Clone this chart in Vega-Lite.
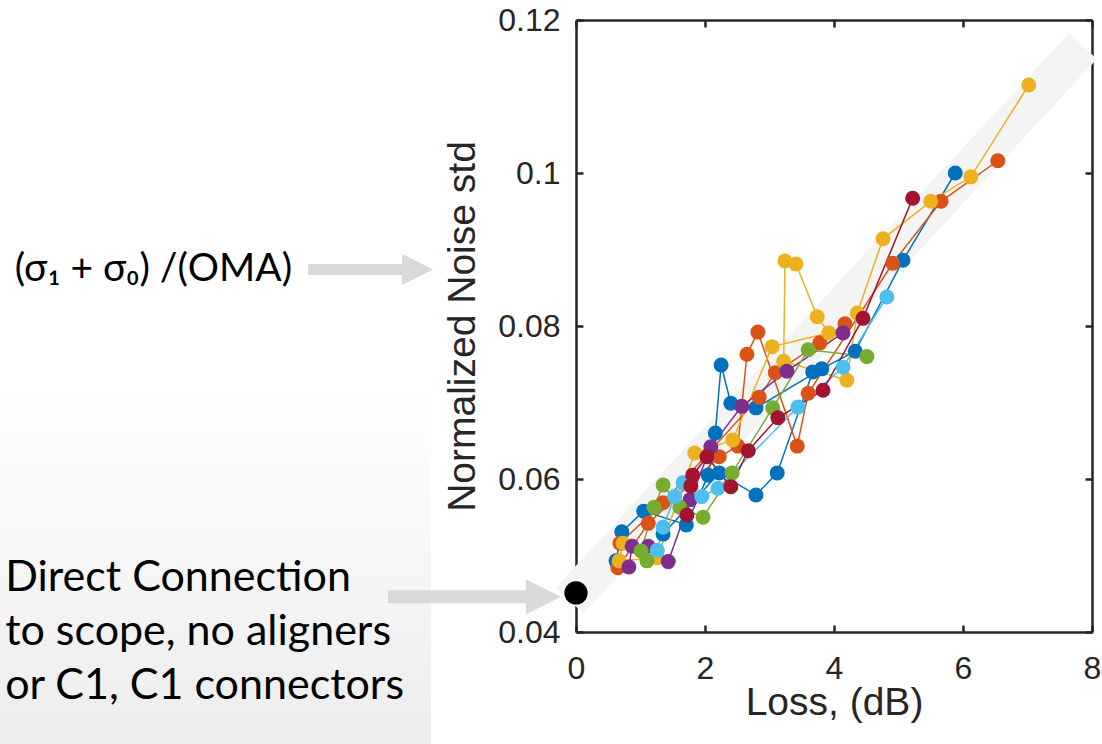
{
  "$schema": "https://vega.github.io/schema/vega-lite/v6.json",
  "width": 516,
  "height": 612,
  "autosize": {"type": "none"},
  "padding": {"left": 576, "top": 20, "right": 10, "bottom": 112},
  "background": "white",
  "config": {
    "view": {"stroke": null},
    "axis": {
      "domainColor": "#262626", "domainWidth": 2.5,
      "tickColor": "#262626", "tickWidth": 2.5,
      "labelColor": "#262626", "titleColor": "#262626",
      "labelFont": "Liberation Sans", "titleFont": "Liberation Sans",
      "labelFontSize": 32, "titleFontSize": 39, "titleFontWeight": "normal",
      "grid": false, "labelFlush": false, "labelOverlap": false
    }
  },
  "datasets": {
    "runs": [
      {"g": "A", "s": "b1", "o": 1, "loss": 0.62, "nstd": 0.0493},
      {"g": "A", "s": "b1", "o": 2, "loss": 0.71, "nstd": 0.0531},
      {"g": "A", "s": "b1", "o": 3, "loss": 1.05, "nstd": 0.0558},
      {"g": "A", "s": "b1", "o": 4, "loss": 1.71, "nstd": 0.0540},
      {"g": "A", "s": "b1", "o": 5, "loss": 2.05, "nstd": 0.0605},
      {"g": "A", "s": "b1", "o": 6, "loss": 2.16, "nstd": 0.0660},
      {"g": "A", "s": "b1", "o": 7, "loss": 2.25, "nstd": 0.0749},
      {"g": "A", "s": "b1", "o": 8, "loss": 2.40, "nstd": 0.0699},
      {"g": "A", "s": "b1", "o": 9, "loss": 2.79, "nstd": 0.0693},
      {"g": "A", "s": "b1", "o": 10, "loss": 3.81, "nstd": 0.0744},
      {"g": "A", "s": "b1", "o": 11, "loss": 4.33, "nstd": 0.0767},
      {"g": "A", "s": "b1", "o": 12, "loss": 5.07, "nstd": 0.0886},
      {"g": "A", "s": "b1", "o": 13, "loss": 5.88, "nstd": 0.1000},
      {"g": "A", "s": "b2", "o": 1, "loss": 1.35, "nstd": 0.0528},
      {"g": "A", "s": "b2", "o": 2, "loss": 2.22, "nstd": 0.0608},
      {"g": "A", "s": "b2", "o": 3, "loss": 2.79, "nstd": 0.0579},
      {"g": "A", "s": "b2", "o": 4, "loss": 3.12, "nstd": 0.0608},
      {"g": "A", "s": "b2", "o": 5, "loss": 3.67, "nstd": 0.0740},

      {"g": "B", "s": "o1", "o": 1, "loss": 0.65, "nstd": 0.0484},
      {"g": "B", "s": "o1", "o": 2, "loss": 1.12, "nstd": 0.0542},
      {"g": "B", "s": "o1", "o": 3, "loss": 2.22, "nstd": 0.0629},
      {"g": "B", "s": "o1", "o": 4, "loss": 2.51, "nstd": 0.0643},
      {"g": "B", "s": "o1", "o": 5, "loss": 2.65, "nstd": 0.0763},
      {"g": "B", "s": "o1", "o": 6, "loss": 2.82, "nstd": 0.0792},
      {"g": "B", "s": "o1", "o": 7, "loss": 3.43, "nstd": 0.0643},
      {"g": "B", "s": "o1", "o": 8, "loss": 3.60, "nstd": 0.0712},
      {"g": "B", "s": "o1", "o": 9, "loss": 4.91, "nstd": 0.0882},
      {"g": "B", "s": "o1", "o": 10, "loss": 5.66, "nstd": 0.0963},
      {"g": "B", "s": "o1", "o": 11, "loss": 6.54, "nstd": 0.1016},
      {"g": "B", "s": "o2", "o": 1, "loss": 0.68, "nstd": 0.0516},
      {"g": "B", "s": "o2", "o": 2, "loss": 1.35, "nstd": 0.0569},
      {"g": "B", "s": "o2", "o": 3, "loss": 2.84, "nstd": 0.0707},
      {"g": "B", "s": "o2", "o": 4, "loss": 3.09, "nstd": 0.0739},
      {"g": "B", "s": "o2", "o": 5, "loss": 3.78, "nstd": 0.0778},
      {"g": "B", "s": "o2", "o": 6, "loss": 4.17, "nstd": 0.0803},

      {"g": "C", "s": "y1", "o": 1, "loss": 0.73, "nstd": 0.0516},
      {"g": "C", "s": "y1", "o": 2, "loss": 0.67, "nstd": 0.0493},
      {"g": "C", "s": "y1", "o": 3, "loss": 1.26, "nstd": 0.0497},
      {"g": "C", "s": "y1", "o": 4, "loss": 1.84, "nstd": 0.0634},
      {"g": "C", "s": "y1", "o": 5, "loss": 2.43, "nstd": 0.0651},
      {"g": "C", "s": "y1", "o": 6, "loss": 3.04, "nstd": 0.0773},
      {"g": "C", "s": "y1", "o": 7, "loss": 3.92, "nstd": 0.0791},
      {"g": "C", "s": "y1", "o": 8, "loss": 3.74, "nstd": 0.0812},
      {"g": "C", "s": "y1", "o": 9, "loss": 3.41, "nstd": 0.0881},
      {"g": "C", "s": "y1", "o": 10, "loss": 3.24, "nstd": 0.0885},
      {"g": "C", "s": "y1", "o": 11, "loss": 3.22, "nstd": 0.0754},
      {"g": "C", "s": "y1", "o": 12, "loss": 4.20, "nstd": 0.0729},
      {"g": "C", "s": "y1", "o": 13, "loss": 4.36, "nstd": 0.0817},
      {"g": "C", "s": "y1", "o": 14, "loss": 4.76, "nstd": 0.0914},
      {"g": "C", "s": "y1", "o": 15, "loss": 5.50, "nstd": 0.0963},
      {"g": "C", "s": "y1", "o": 16, "loss": 6.12, "nstd": 0.0995},
      {"g": "C", "s": "y1", "o": 17, "loss": 7.02, "nstd": 0.1115},

      {"g": "D", "s": "p1", "o": 1, "loss": 0.82, "nstd": 0.0485},
      {"g": "D", "s": "p1", "o": 2, "loss": 0.87, "nstd": 0.0512},
      {"g": "D", "s": "p1", "o": 3, "loss": 1.12, "nstd": 0.0512},
      {"g": "D", "s": "p1", "o": 4, "loss": 1.43, "nstd": 0.0492},
      {"g": "D", "s": "p1", "o": 5, "loss": 1.77, "nstd": 0.0573},
      {"g": "D", "s": "p1", "o": 6, "loss": 2.09, "nstd": 0.0642},
      {"g": "D", "s": "p1", "o": 7, "loss": 2.57, "nstd": 0.0695},
      {"g": "D", "s": "p1", "o": 8, "loss": 3.27, "nstd": 0.0741},
      {"g": "D", "s": "p1", "o": 9, "loss": 4.14, "nstd": 0.0791},

      {"g": "E", "s": "g1", "o": 1, "loss": 1.10, "nstd": 0.0493},
      {"g": "E", "s": "g1", "o": 2, "loss": 1.01, "nstd": 0.0506},
      {"g": "E", "s": "g1", "o": 3, "loss": 1.21, "nstd": 0.0563},
      {"g": "E", "s": "g1", "o": 4, "loss": 1.35, "nstd": 0.0592},
      {"g": "E", "s": "g1", "o": 5, "loss": 1.61, "nstd": 0.0563},
      {"g": "E", "s": "g1", "o": 6, "loss": 1.97, "nstd": 0.0550},
      {"g": "E", "s": "g1", "o": 7, "loss": 2.42, "nstd": 0.0608},
      {"g": "E", "s": "g1", "o": 8, "loss": 3.05, "nstd": 0.0693},
      {"g": "E", "s": "g1", "o": 9, "loss": 3.60, "nstd": 0.0769},
      {"g": "E", "s": "g1", "o": 10, "loss": 4.51, "nstd": 0.0760},

      {"g": "F", "s": "l1", "o": 1, "loss": 1.26, "nstd": 0.0507},
      {"g": "F", "s": "l1", "o": 2, "loss": 1.35, "nstd": 0.0537},
      {"g": "F", "s": "l1", "o": 3, "loss": 1.53, "nstd": 0.0577},
      {"g": "F", "s": "l1", "o": 4, "loss": 1.66, "nstd": 0.0595},
      {"g": "F", "s": "l1", "o": 5, "loss": 1.95, "nstd": 0.0577},
      {"g": "F", "s": "l1", "o": 6, "loss": 2.20, "nstd": 0.0588},
      {"g": "F", "s": "l1", "o": 7, "loss": 3.44, "nstd": 0.0694},
      {"g": "F", "s": "l1", "o": 8, "loss": 4.14, "nstd": 0.0746},
      {"g": "F", "s": "l1", "o": 9, "loss": 4.82, "nstd": 0.0838},

      {"g": "G", "s": "r1", "o": 1, "loss": 1.72, "nstd": 0.0553},
      {"g": "G", "s": "r1", "o": 2, "loss": 1.78, "nstd": 0.0591},
      {"g": "G", "s": "r1", "o": 3, "loss": 1.81, "nstd": 0.0605},
      {"g": "G", "s": "r1", "o": 4, "loss": 2.03, "nstd": 0.0629},
      {"g": "G", "s": "r1", "o": 5, "loss": 2.40, "nstd": 0.0590},
      {"g": "G", "s": "r1", "o": 6, "loss": 2.67, "nstd": 0.0637},
      {"g": "G", "s": "r1", "o": 7, "loss": 3.13, "nstd": 0.0680},
      {"g": "G", "s": "r1", "o": 8, "loss": 3.83, "nstd": 0.0716},
      {"g": "G", "s": "r1", "o": 9, "loss": 4.45, "nstd": 0.0810},
      {"g": "G", "s": "r1", "o": 10, "loss": 5.22, "nstd": 0.0967}
    ],
    "direct": [{"loss": 0, "nstd": 0.0451}],
    "trend": [{"loss": -0.1, "nstd": 0.0441}, {"loss": 7.86, "nstd": 0.1166}],
    "one": [{}]
  },
  "layer": [
    {
      "data": {"name": "one"},
      "mark": {
        "type": "rect",
        "fill": {"gradient": "linear", "x1": 0, "y1": 0, "x2": 0, "y2": 1,
          "stops": [{"offset": 0, "color": "#ffffff"}, {"offset": 1, "color": "#ededed"}]}
      },
      "encoding": {
        "x": {"datum": -8.93, "type": "quantitative", "scale": {"domain": [0, 8], "nice": false, "zero": false}, "axis": null},
        "x2": {"datum": -2.25},
        "y": {"datum": 0.0735, "type": "quantitative", "scale": {"domain": [0.04, 0.12], "nice": false, "zero": false}, "axis": null},
        "y2": {"datum": 0.0253}
      }
    },
    {
      "data": {"name": "trend"},
      "mark": {"type": "line", "stroke": "#f4f4f4", "strokeWidth": 38, "strokeCap": "butt"},
      "encoding": {
        "x": {"field": "loss", "type": "quantitative", "scale": {"domain": [0, 8], "nice": false, "zero": false}, "axis": null},
        "y": {"field": "nstd", "type": "quantitative", "scale": {"domain": [0.04, 0.12], "nice": false, "zero": false}, "axis": null}
      }
    },
    {
      "data": {"name": "runs"},
      "mark": {"type": "line", "strokeWidth": 1.5},
      "encoding": {
        "x": {"field": "loss", "type": "quantitative", "scale": {"domain": [0, 8], "nice": false, "zero": false},
          "axis": {"orient": "bottom", "values": [0, 2, 4, 6, 8], "format": "d", "tickSize": -7, "labelPadding": 28, "title": "Loss, (dB)", "titlePadding": -1}},
        "y": {"field": "nstd", "type": "quantitative", "scale": {"domain": [0.04, 0.12], "nice": false, "zero": false},
          "axis": {"orient": "left", "values": [0.04, 0.06, 0.08, 0.1, 0.12], "labelExpr": "datum.value > 0.099 && datum.value < 0.101 ? '0.1' : format(datum.value, '.2f')", "tickSize": -7, "labelPadding": 23, "title": "Normalized Noise std", "titlePadding": 15}},
        "color": {"field": "g", "type": "nominal", "scale": {"domain": ["A", "B", "C", "D", "E", "F", "G"], "range": ["#0072BD", "#D95319", "#EDB120", "#7E2F8E", "#77AC30", "#4DBEEE", "#A2142F"]}, "legend": null},
        "detail": {"field": "s"},
        "order": {"field": "o", "type": "quantitative"}
      }
    },
    {
      "data": {"name": "runs"},
      "mark": {"type": "circle", "size": 225, "opacity": 1},
      "encoding": {
        "x": {"field": "loss", "type": "quantitative", "scale": {"domain": [0, 8], "nice": false, "zero": false}, "axis": null},
        "y": {"field": "nstd", "type": "quantitative", "scale": {"domain": [0.04, 0.12], "nice": false, "zero": false}, "axis": null},
        "color": {"field": "g", "type": "nominal", "scale": {"domain": ["A", "B", "C", "D", "E", "F", "G"], "range": ["#0072BD", "#D95319", "#EDB120", "#7E2F8E", "#77AC30", "#4DBEEE", "#A2142F"]}, "legend": null}
      }
    },
    {
      "data": {"name": "direct"},
      "mark": {"type": "circle", "size": 540, "opacity": 1, "color": "#000000"},
      "encoding": {
        "x": {"field": "loss", "type": "quantitative", "scale": {"domain": [0, 8], "nice": false, "zero": false},
          "axis": {"orient": "top", "values": [0, 2, 4, 6, 8], "labels": false, "tickSize": -7, "title": null}},
        "y": {"field": "nstd", "type": "quantitative", "scale": {"domain": [0.04, 0.12], "nice": false, "zero": false},
          "axis": {"orient": "right", "values": [0.04, 0.06, 0.08, 0.1, 0.12], "labels": false, "tickSize": -7, "title": null}}
      }
    },
    {
      "data": {"name": "one"},
      "mark": {"type": "rule", "stroke": "#d9d9d9", "strokeWidth": 11, "strokeCap": "butt"},
      "encoding": {
        "x": {"datum": -4.155, "type": "quantitative", "scale": {"domain": [0, 8], "nice": false, "zero": false}, "axis": null},
        "x2": {"datum": -2.6},
        "y": {"datum": 0.0874, "type": "quantitative", "scale": {"domain": [0.04, 0.12], "nice": false, "zero": false}, "axis": null}
      }
    },
    {
      "data": {"name": "one"},
      "mark": {"type": "point", "shape": "M-1,-1L1,0L-1,1Z", "filled": true, "size": 961, "color": "#d9d9d9", "opacity": 1},
      "encoding": {
        "x": {"datum": -2.457, "type": "quantitative", "scale": {"domain": [0, 8], "nice": false, "zero": false}, "axis": null},
        "y": {"datum": 0.0874, "type": "quantitative", "scale": {"domain": [0.04, 0.12], "nice": false, "zero": false}, "axis": null}
      }
    },
    {
      "data": {"name": "one"},
      "mark": {"type": "rule", "stroke": "#d9d9d9", "strokeWidth": 13, "strokeCap": "butt"},
      "encoding": {
        "x": {"datum": -2.915, "type": "quantitative", "scale": {"domain": [0, 8], "nice": false, "zero": false}, "axis": null},
        "x2": {"datum": -0.68},
        "y": {"datum": 0.0446, "type": "quantitative", "scale": {"domain": [0.04, 0.12], "nice": false, "zero": false}, "axis": null}
      }
    },
    {
      "data": {"name": "one"},
      "mark": {"type": "point", "shape": "M-1,-1L1,0L-1,1Z", "filled": true, "size": 1225, "color": "#d9d9d9", "opacity": 1},
      "encoding": {
        "x": {"datum": -0.504, "type": "quantitative", "scale": {"domain": [0, 8], "nice": false, "zero": false}, "axis": null},
        "y": {"datum": 0.0446, "type": "quantitative", "scale": {"domain": [0.04, 0.12], "nice": false, "zero": false}, "axis": null}
      }
    },
    {
      "data": {"name": "one"},
      "mark": {"type": "text", "text": "(σ₁ + σ₀) /(OMA)", "font": "Lato", "fontSize": 39, "align": "left", "baseline": "middle", "color": "#000000"},
      "encoding": {
        "x": {"datum": -8.7, "type": "quantitative", "scale": {"domain": [0, 8], "nice": false, "zero": false}, "axis": null},
        "y": {"datum": 0.0874, "type": "quantitative", "scale": {"domain": [0.04, 0.12], "nice": false, "zero": false}, "axis": null}
      }
    },
    {
      "data": {"name": "one"},
      "mark": {"type": "text", "text": ["Direct Connection", "to scope, no aligners", "or C1, C1 connectors"], "font": "Lato", "fontSize": 43, "lineHeight": 54, "align": "left", "baseline": "middle", "color": "#000000"},
      "encoding": {
        "x": {"datum": -8.85, "type": "quantitative", "scale": {"domain": [0, 8], "nice": false, "zero": false}, "axis": null},
        "y": {"datum": 0.0471, "type": "quantitative", "scale": {"domain": [0.04, 0.12], "nice": false, "zero": false}, "axis": null}
      }
    }
  ],
  "resolve": {"axis": {"x": "independent", "y": "independent"}}
}
